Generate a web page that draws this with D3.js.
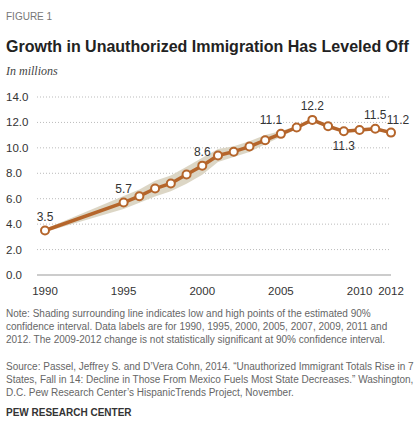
<!DOCTYPE html>
<html><head><meta charset="utf-8">
<script src="https://d3js.org/d3.v7.min.js"></script>
<style>
body{margin:0;background:#fff;font-family:"Liberation Sans",Arial,sans-serif;}
</style></head>
<body><svg id="c" width="420" height="433"></svg>
<script>
const years = [1990,1995,1996,1997,1998,1999,2000,2001,2002,2003,2004,2005,2006,2007,2008,2009,2010,2011,2012];
const values = [3.5,5.7,6.2,6.8,7.2,7.9,8.6,9.4,9.7,10.1,10.6,11.1,11.6,12.2,11.7,11.3,11.4,11.5,11.2];
const lows = [3.5,5.3,5.8,6.3,6.7,7.3,8.0,9.0,9.4,9.8,10.4,11.0,11.6,12.2,11.7,11.3,11.4,11.5,11.2];
const highs = [3.5,6.1,6.6,7.3,7.7,8.4,9.1,9.8,10.0,10.4,10.9,11.2,11.6,12.2,11.7,11.3,11.4,11.5,11.2];
const labelled = {1990:"up",1995:"up",2000:"up",2005:"upleft",2007:"up",2009:"down",2011:"up",2012:"upright"};
const yTicks = [0,2,4,6,8,10,12,14];
const xTicks = [1990,1995,2000,2005,2010,2012];

const svg = d3.select("#c");
const x = d3.scaleLinear().domain([1990,2012]).range([45,391]);
const y = d3.scaleLinear().domain([0,14]).range([275,97]);

svg.append("text").attr("x",6).attr("y",20).attr("fill","#777").attr("font-size",10).text("FIGURE 1");
svg.append("text").attr("x",6).attr("y",52).attr("fill","#222").attr("font-size",16).attr("font-weight","bold").attr("font-family","'Liberation Sans Narrow',Arial,sans-serif").text("Growth in Unauthorized  Immigration Has Leveled Off");
svg.append("text").attr("x",6).attr("y",75).attr("fill","#444").attr("font-size",12).attr("font-style","italic").attr("font-family","'Liberation Serif',serif").text("In millions");

svg.append("g").selectAll("line").data(yTicks.filter(d=>d>0)).join("line")
  .attr("x1",37).attr("x2",391).attr("y1",d=>y(d)).attr("y2",d=>y(d))
  .attr("stroke","#bbb").attr("stroke-dasharray","1,2");
svg.append("line").attr("x1",37).attr("x2",391).attr("y1",y(0)).attr("y2",y(0)).attr("stroke","#999");
svg.append("g").selectAll("text").data(yTicks).join("text")
  .attr("x",6).attr("y",d=>y(d)+4).attr("font-size",11.5).attr("fill","#333").text(d=>d.toFixed(1));
svg.append("g").selectAll("text").data(xTicks).join("text")
  .attr("x",d=>x(d)).attr("y",295).attr("text-anchor","middle").attr("font-size",11.5).attr("fill","#333").text(d=>d);

const idx = d3.range(years.length);
svg.append("path").attr("fill","#d8d2bf").attr("opacity",0.9)
  .attr("d",d3.area().x(i=>x(years[i])).y0(i=>y(lows[i])+1.5).y1(i=>y(highs[i])-1.5)(idx));
svg.append("path").attr("fill","none").attr("stroke","#b5652b").attr("stroke-width",3.5)
  .attr("d",d3.line().x(i=>x(years[i])).y(i=>y(values[i]))(idx));
svg.append("g").selectAll("circle").data(idx).join("circle")
  .attr("cx",i=>x(years[i])).attr("cy",i=>y(values[i])).attr("r",4)
  .attr("fill","#fff").attr("stroke","#b5652b").attr("stroke-width",2);
const dx = {up:0,upleft:-10,down:0,upright:7};
svg.append("g").selectAll("text").data(idx.filter(i=>labelled[years[i]])).join("text")
  .attr("x",i=>x(years[i])+dx[labelled[years[i]]])
  .attr("y",i=>{const p=labelled[years[i]];return p==="down"?y(values[i])+19:p==="upright"?y(values[i])-9:y(values[i])-10;})
  .attr("text-anchor","middle")
  .attr("font-size",12).attr("fill","#333").text(i=>values[i].toFixed(1));

const note = ["Note: Shading surrounding line indicates low and high points of the estimated 90%",
"confidence interval. Data labels are for 1990, 1995, 2000, 2005, 2007, 2009, 2011 and",
"2012. The 2009-2012 change is not statistically significant at 90% confidence interval."];
const src = ["Source:  Passel, Jeffrey S. and D\u2019Vera Cohn, 2014. \u201cUnauthorized Immigrant Totals Rise in 7",
"States, Fall in 14: Decline in Those From Mexico Fuels Most State Decreases.\u201d Washington,",
"D.C. Pew Research Center\u2019s HispanicTrends Project, November."];
svg.append("g").selectAll("text").data(note).join("text")
  .attr("x",6).attr("y",(d,i)=>317+i*13).attr("font-size",10).attr("fill","#666").text(d=>d);
svg.append("g").selectAll("text").data(src).join("text")
  .attr("x",6).attr("y",(d,i)=>370+i*13).attr("font-size",10).attr("fill","#666").text(d=>d);
svg.append("text").attr("x",6).attr("y",416).attr("font-size",10).attr("font-weight","bold").attr("fill","#333").text("PEW RESEARCH CENTER");
</script></body></html>
